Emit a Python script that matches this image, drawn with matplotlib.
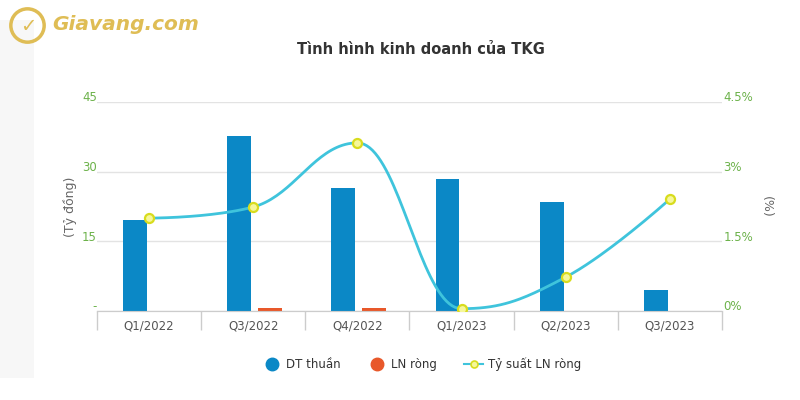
"""
plot.py: TKG quarterly business results (revenue, net profit, net margin)
"""

import numpy as np
import matplotlib
matplotlib.use("Agg")
import matplotlib.pyplot as plt
import matplotlib.transforms as mtransforms
from matplotlib.lines import Line2D

quarters = ['Q1/2022', 'Q3/2022', 'Q4/2022', 'Q1/2023', 'Q2/2023', 'Q3/2023']
revenue = [19.5, 37.7, 26.5, 28.4, 23.5, 4.6]      # DT thuần (Tỷ đồng)
net_profit = [0.0, 0.7, 0.7, 0.0, 0.0, 0.0]        # LN ròng (Tỷ đồng)
net_margin = [2.0, 2.24, 3.62, 0.05, 0.73, 2.41]   # Tỷ suất LN ròng (%)

left_ticks = [0, 15, 30, 45]
left_labels = ['-', '15', '30', '45']
right_ticks = [0, 1.5, 3, 4.5]
right_labels = ['0%', '1.5%', '3%', '4.5%']

BLUE = '#0b88c6'
ORANGE = '#e8582a'
CYAN = '#3fc4dc'
GREEN = '#6cb24a'
GRID = '#e3e3e3'
GOLD = '#dfbd55'


def spline(xs, ys, smoothing=1.5, steps=40):
    # Highcharts style spline through the points
    n = len(xs)
    lc = [(xs[i], ys[i]) for i in range(n)]
    rc = [(xs[i], ys[i]) for i in range(n)]
    denom = smoothing + 1
    for i in range(1, n - 1):
        px, py = xs[i], ys[i]
        lx, ly = xs[i - 1], ys[i - 1]
        nx, ny = xs[i + 1], ys[i + 1]
        lcx = (smoothing * px + lx) / denom
        lcy = (smoothing * py + ly) / denom
        rcx = (smoothing * px + nx) / denom
        rcy = (smoothing * py + ny) / denom
        corr = 0
        if rcx != lcx:
            corr = ((rcy - lcy) * (rcx - px)) / (rcx - lcx) + py - rcy
        lcy += corr
        rcy += corr
        if lcy > ly and lcy > py:
            lcy = max(ly, py)
            rcy = 2 * py - lcy
        elif lcy < ly and lcy < py:
            lcy = min(ly, py)
            rcy = 2 * py - lcy
        if rcy > ny and rcy > py:
            rcy = max(ny, py)
            lcy = 2 * py - rcy
        elif rcy < ny and rcy < py:
            rcy = min(ny, py)
            lcy = 2 * py - rcy
        lc[i] = (lcx, lcy)
        rc[i] = (rcx, rcy)
    t = np.linspace(0, 1, steps)
    out_x, out_y = [], []
    for i in range(n - 1):
        p0 = (xs[i], ys[i])
        p1 = rc[i]
        p2 = lc[i + 1]
        p3 = (xs[i + 1], ys[i + 1])
        b0 = (1 - t) ** 3
        b1 = 3 * (1 - t) ** 2 * t
        b2 = 3 * (1 - t) * t ** 2
        b3 = t ** 3
        out_x.extend(b0 * p0[0] + b1 * p1[0] + b2 * p2[0] + b3 * p3[0])
        out_y.extend(b0 * p0[1] + b1 * p1[1] + b2 * p2[1] + b3 * p3[1])
    return np.array(out_x), np.array(out_y)


fig = plt.figure(figsize=(8, 4), dpi=100)
fig.patch.set_facecolor('white')

# faint grey panel on the left edge
fig.patches.append(plt.Rectangle((0, 0.055), 0.042, 0.895, transform=fig.transFigure,
                                 facecolor='#f7f7f7', edgecolor='none', zorder=-1))

ax = fig.add_axes([97 / 800, 1 - 311 / 400, 625 / 800, 209 / 400])
ax2 = ax.twinx()

x = np.arange(len(quarters))
ax.bar(x - 0.135, revenue, width=0.23, color=BLUE, zorder=3)
ax.bar(x + 0.163, net_profit, width=0.23, color=ORANGE, zorder=3)

sx, sy = spline(list(x.astype(float)), net_margin)
ax2.plot(sx, sy, color=CYAN, lw=2, zorder=4)
ax2.plot(x, net_margin, ls='none', marker='o', ms=6.5, mfc='#f6f79a',
         mec='#d8dc1e', mew=1.6, zorder=5)

ax.set_xlim(-0.5, len(quarters) - 0.5)
ax.set_ylim(0, 45)
ax2.set_ylim(0, 4.5)

ax.set_yticks(left_ticks)
ax.set_yticklabels(left_labels)
ax2.set_yticks(right_ticks)
ax2.set_yticklabels(right_labels)
ax.set_xticks(x)
ax.set_xticklabels(quarters)

ax.grid(axis='y', color=GRID, lw=1, zorder=0)
ax.set_axisbelow(True)

for a in (ax, ax2):
    for s in ('top', 'left', 'right'):
        a.spines[s].set_visible(False)
    a.spines['bottom'].set_color('#cccccc')

ax.tick_params(axis='y', length=0, pad=0, labelcolor=GREEN, labelsize=8.5)
ax2.tick_params(axis='y', length=0, pad=1, labelcolor=GREEN, labelsize=8.5)
ax.tick_params(axis='x', length=0, pad=6, labelcolor='#555555', labelsize=8.5)

# category boundary ticks below the axis line
ax.set_xticks(np.arange(-0.5, len(quarters), 1.0), minor=True)
ax.tick_params(axis='x', which='minor', length=14, color='#cccccc', width=1)

# put y labels slightly above their gridlines
up = mtransforms.ScaledTranslation(0, 4 / 72, fig.dpi_scale_trans)
for lab in ax.get_yticklabels() + ax2.get_yticklabels():
    lab.set_transform(lab.get_transform() + up)

ax.set_ylabel('(Tỷ đồng)', color='#666666', fontsize=9, labelpad=4)
ax2.set_ylabel('(%)', color='#666666', fontsize=9, rotation=270, labelpad=14)

fig.text(0.526, 0.877, 'Tình hình kinh doanh của TKG', ha='center', va='center',
         fontsize=10.5, fontweight='bold', color='#333333')

handles = [
    Line2D([], [], ls='none', marker='o', ms=9, mfc=BLUE, mec=BLUE),
    Line2D([], [], ls='none', marker='o', ms=9, mfc=ORANGE, mec=ORANGE),
    Line2D([], [], color=CYAN, lw=1.5, marker='o', ms=5, mfc='#f6f79a',
           mec='#d8dc1e', mew=1.2),
]
fig.legend(handles, ['DT thuần', 'LN ròng', 'Tỷ suất LN ròng'],
           loc='center', bbox_to_anchor=(0.527, 0.09), ncol=3, frameon=False,
           fontsize=8.5, handlelength=1.6, columnspacing=2.3, handletextpad=0.4,
           labelcolor='#333333')

# watermark logo
fig.add_artist(Line2D([27 / 800], [1 - 25 / 400], transform=fig.transFigure,
                      marker='o', ms=24, mfc='none', mec=GOLD, mew=2.5))
fig.text(28 / 800, 1 - 26 / 400, '✓', ha='center', va='center', fontsize=14,
         fontweight='bold', color=GOLD)
fig.text(52 / 800, 1 - 25 / 400, 'Giavang.com', ha='left', va='center', fontsize=14.5,
         fontweight='bold', fontstyle='italic', color=GOLD)

fig.savefig('out.png', dpi=100)
